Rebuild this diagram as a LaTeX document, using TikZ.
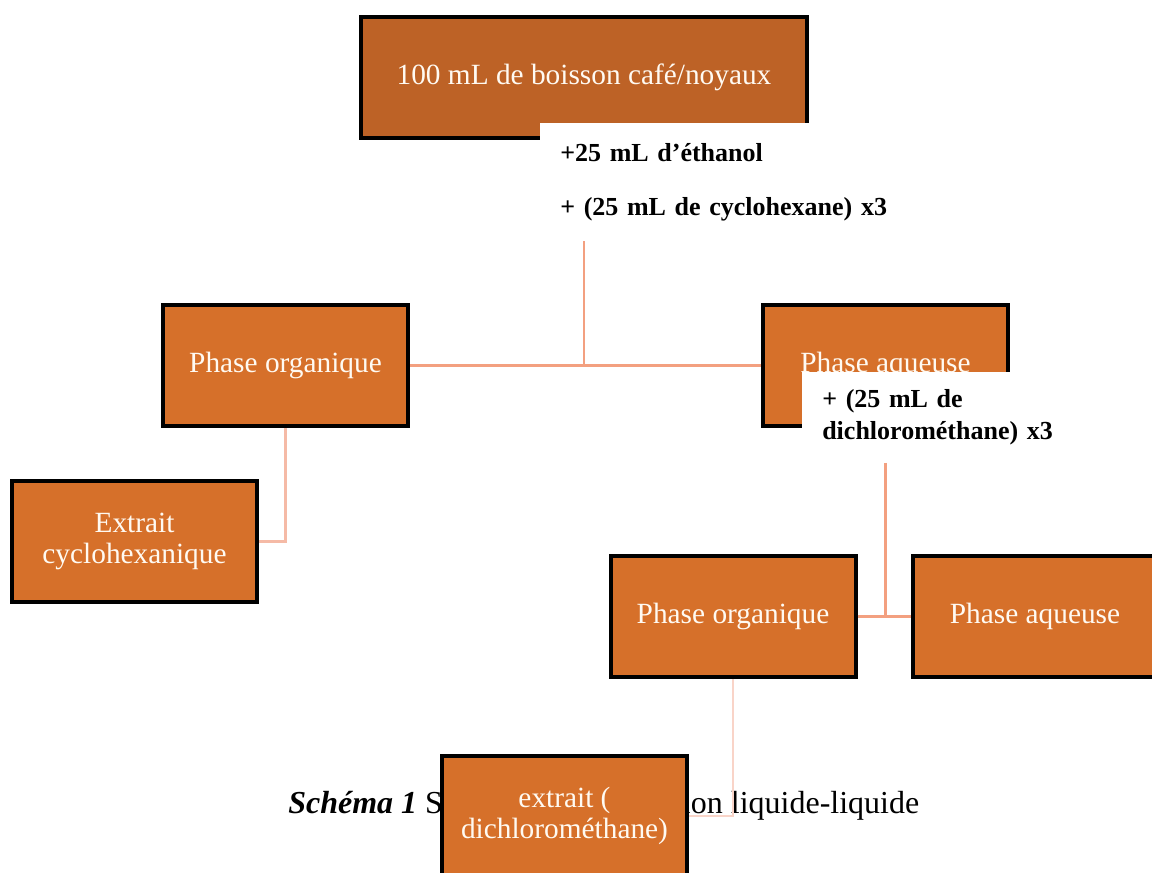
\documentclass[tikz,border=0pt]{standalone}
\usepackage{fontspec}
\setmainfont{Liberation Serif}
\usetikzlibrary{positioning}
\definecolor{rust}{RGB}{189,98,38}
\definecolor{boxorange}{RGB}{214,112,42}
\definecolor{cream}{RGB}{255,250,242}
\definecolor{linkA}{RGB}{243,160,128}
\definecolor{linkB}{RGB}{245,186,166}
\definecolor{linkC}{RGB}{249,212,200}

\begin{document}
\begin{tikzpicture}[x=0.75pt, y=-0.75pt,
    box/.style={rectangle, draw=black, line width=3pt, fill=boxorange, text=cream,
                minimum width=183.75pt, minimum height=90.75pt, align=center,
                font=\fontsize{22}{23}\selectfont},
    note/.style={rectangle, fill=white, anchor=north west, align=left,
                 inner xsep=15pt, font=\fontsize{19.5}{24}\selectfont\bfseries},
    link/.style={line width=2.2pt, linkA}
  ]
  \useasboundingbox (0,0) rectangle (1152,872);

  % caption sits under the last box
  \node[anchor=base west, inner sep=0pt, font=\fontsize{24}{28}\selectfont] (caption) at (288,813)
    {\textbf{\textit{Schéma 1}} Séquences d’extraction liquide-liquide};

  \node[box, fill=rust, minimum width=334.5pt] (src) at (584,77.5) {100 mL de boisson café/noyaux};
  \node[box] (orgA) at (285.5,365.5) {Phase organique};
  \node[box] (aqA) at (885.5,365.5) {Phase aqueuse};
  \node[box] (extA) at (134.5,541.5) {Extrait\\cyclohexanique};
  \node[box] (orgB) at (733,616.5) {Phase organique};
  \node[box, right=39.75pt of orgB] (aqB) {Phase aqueuse};
  \node[box] (extB) at (564.5,816) {extrait (\\dichlorométhane)};

  % reagent notes
  \node[note, text width=260pt, inner ysep=15pt] (lblA) at (540,123)
    {+25 mL d’éthanol\\[16.5pt]+ (25 mL de cyclohexane) x3};
  \node[note, text width=200pt, inner ysep=13pt] (lblB) at (802,372)
    {+ (25 mL de\\dichlorométhane) x3};

  \draw[link] (src.south |- lblA.south) -- (src.south |- orgA.east);
  \draw[link] (orgA) -- (aqA);
  \draw[link, linkB] (orgA.south) |- (extA.east);
  \draw[link] (aqA.south |- lblB.south) -- (aqA.south |- orgB.east);
  \draw[link] (orgB) -- (aqB);
  \draw[link, linkC] (orgB.south) |- (extB.east);
\end{tikzpicture}
\end{document}
